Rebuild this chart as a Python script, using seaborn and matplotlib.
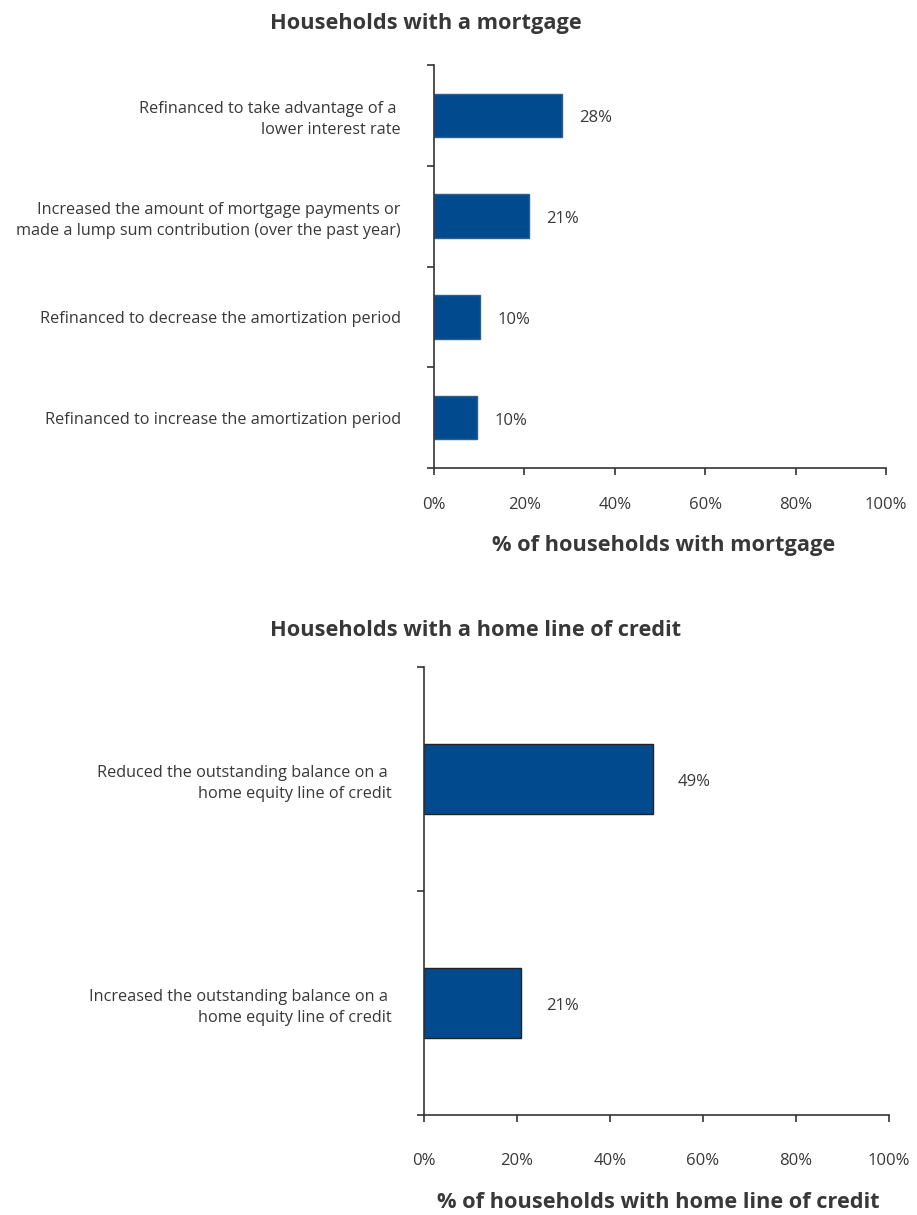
import pandas as pd
import matplotlib.pyplot as plt
import seaborn as sns

# data
mortgage_actions = [
    "Refinanced to take advantage of a \nlower interest rate",
    "Increased the amount of mortgage payments or\nmade a lump sum contribution (over the past year)",
    "Refinanced to decrease the amortization period",
    "Refinanced to increase the amortization period",
]
mortgage_pct = [28.4, 21.0, 10.2, 9.6]

heloc_actions = [
    "Reduced the outstanding balance on a \nhome equity line of credit",
    "Increased the outstanding balance on a \nhome equity line of credit",
]
heloc_pct = [49.2, 20.9]

x_ticks = [0, 20, 40, 60, 80, 100]

BLUE = "#024a8e"
TEXT = "#383838"

sns.set_style("white")
plt.rcParams['font.family'] = ['Open Sans', 'DejaVu Sans']
plt.rcParams['text.color'] = TEXT

fig = plt.figure(figsize=(9.17, 12.15), dpi=100)
ax1 = fig.add_axes([0.4733, 0.6148, 0.4929, 0.3317])
ax2 = fig.add_axes([0.4624, 0.0823, 0.5071, 0.3687])


def draw(ax, cats, vals, width, edge, ypad, xpad, lab_off):
    df = pd.DataFrame({'action': cats, 'pct': vals})
    sns.barplot(data=df, y='action', x='pct', orient='h', color=BLUE,
                width=width, edgecolor=edge, linewidth=1, saturation=1, ax=ax)
    n = len(cats)
    ax.set_xlim(0, 100)
    ax.set_ylim(n - 0.5, -0.5)
    ax.set_xticks(x_ticks)
    ax.set_xticklabels([f"{t}%" for t in x_ticks])
    ax.set_yticks([i - 0.5 for i in range(n + 1)], minor=True)
    ax.tick_params(axis='y', which='major', length=0, pad=ypad,
                   labelsize=11.7, labelcolor=TEXT)
    ax.tick_params(axis='y', which='minor', length=5, width=1.2,
                   color='#333333', left=True)
    ax.tick_params(axis='x', length=5, width=1.2, color='#333333',
                   bottom=True, pad=xpad, labelsize=12, labelcolor=TEXT)
    for lab in ax.get_yticklabels():
        lab.set_multialignment('right')
        lab.set_linespacing(1.4)
    for s in ['top', 'right']:
        ax.spines[s].set_visible(False)
    for s in ['left', 'bottom']:
        ax.spines[s].set_color('#333333')
        ax.spines[s].set_linewidth(1.2)
    ax.set_xlabel('')
    ax.set_ylabel('')
    for i, v in enumerate(vals):
        ax.annotate(f"{round(v)}%", (v, i), xytext=(lab_off, -3),
                    textcoords='offset pixels', ha='left', va='center',
                    fontsize=12, color=TEXT)


draw(ax1, mortgage_actions, mortgage_pct, 0.43, '#2f5f8f', 24, 16, 17)
draw(ax2, heloc_actions, heloc_pct, 0.31, '#222222', 23, 22, 25)

fig.text(270 / 917, 1 - 23 / 1215, "Households with a mortgage",
         ha='left', va='center', fontsize=15.7, fontweight='bold')
fig.text(664 / 917, 1 - 546 / 1215, "% of households with mortgage",
         ha='center', va='center', fontsize=15.7, fontweight='bold')
fig.text(270 / 917, 1 - 631 / 1215, "Households with a home line of credit",
         ha='left', va='center', fontsize=15.7, fontweight='bold')
fig.text(658 / 917, 1 - 1202 / 1215, "% of households with home line of credit",
         ha='center', va='center', fontsize=15.7, fontweight='bold')

fig.savefig("out.png", dpi=100)
